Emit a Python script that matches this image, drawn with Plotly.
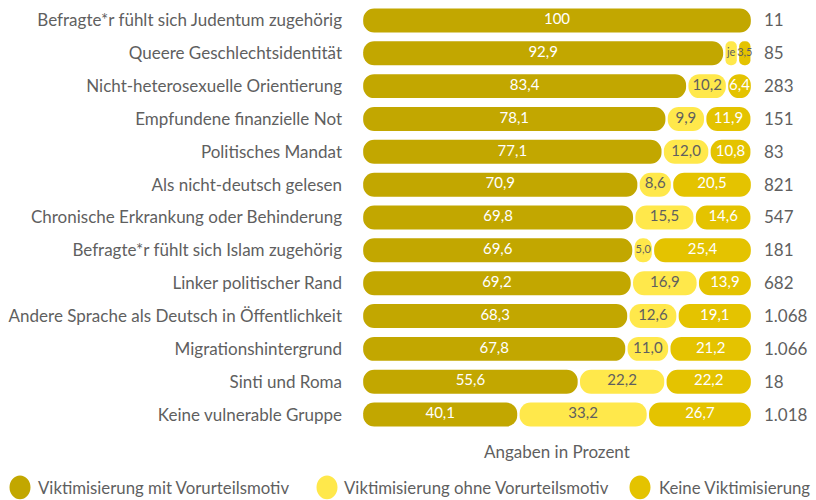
import plotly.graph_objects as go

categories = [
    "Befragte*r fühlt sich Judentum zugehörig",
    "Queere Geschlechtsidentität",
    "Nicht-heterosexuelle Orientierung",
    "Empfundene finanzielle Not",
    "Politisches Mandat",
    "Als nicht-deutsch gelesen",
    "Chronische Erkrankung oder Behinderung",
    "Befragte*r fühlt sich Islam zugehörig",
    "Linker politischer Rand",
    "Andere Sprache als Deutsch in Öffentlichkeit",
    "Migrationshintergrund",
    "Sinti und Roma",
    "Keine vulnerable Gruppe",
]
mit_motiv = [100, 92.9, 83.4, 78.1, 77.1, 70.9, 69.8, 69.6, 69.2, 68.3, 67.8, 55.6, 40.1]
ohne_motiv = [0, 3.5, 10.2, 9.9, 12.0, 8.6, 15.5, 5.0, 16.9, 12.6, 11.0, 22.2, 33.2]
keine = [0, 3.5, 6.4, 11.9, 10.8, 20.5, 14.6, 25.4, 13.9, 19.1, 21.2, 22.2, 26.7]
n_labels = ["11", "85", "283", "151", "83", "821", "547", "181", "682",
            "1.068", "1.066", "18", "1.018"]

FONT = "Lato"
GREY = "#5f5f5f"
W, H = 816, 500
L, R, T, B = 362, 64, 3.5, 68.5
PW, PH = W - L - R, H - T - B

series = [
    ("Viktimisierung mit Vorurteilsmotiv", mit_motiv, "#C2A700", "white"),
    ("Viktimisierung ohne Vorurteilsmotiv", ohne_motiv, "#FFE84B", GREY),
    ("Keine Viktimisierung", keine, "#E4C300", "white"),
]

rows = list(range(len(categories)))
GAP = 0.3      # half the white gap between neighbouring pills, in percent units
BAR_W = 0.73

fig = go.Figure()
starts = [0.0] * len(categories)
for name, vals, color, txt_color in series:
    bases, lens, ys = [], [], []
    tx, ty, tt, ts, tc = [], [], [], [], []
    for i, v in enumerate(vals):
        if v <= 0:
            continue
        bases.append(starts[i] + GAP)
        lens.append(max(v - 2 * GAP, 0.4))
        ys.append(i)
        tx.append(starts[i] + v / 2)
        ty.append(i)
        label = f"{v:.1f}".replace(".", ",") if v != 100 else "100"
        tt.append(label)
        small = v < 6
        ts.append(11 if small else 15)
        tc.append(GREY if small else txt_color)
    fig.add_trace(go.Bar(
        y=ys, x=lens, base=bases, orientation="h", name=name,
        width=BAR_W, marker=dict(color=color, line=dict(width=0), cornerradius=12),
        hoverinfo="skip", showlegend=False,
    ))
    # "je" marks the two equal 3,5 shares of the queer row
    if name.startswith("Viktimisierung ohne"):
        for k, yy in enumerate(ty):
            if yy == 1:
                tt[k] = "je"
    fig.add_trace(go.Scatter(
        x=tx, y=ty, mode="text", text=tt,
        textfont=dict(family=FONT, size=ts, color=tc),
        cliponaxis=False, hoverinfo="skip", showlegend=False,
    ))
    for i, v in enumerate(vals):
        starts[i] += v

# invisible trace that carries the right-hand axis with the case numbers
fig.add_trace(go.Scatter(x=[None], y=[None], yaxis="y2", showlegend=False, hoverinfo="skip"))


def px_x(px):
    return (px - L) / PW


def px_y(py):
    return 1 - (py - T) / PH


annotations = [
    dict(text="Angaben in Prozent", x=px_x(557), y=px_y(452), xref="paper", yref="paper",
         showarrow=False, xanchor="center", yanchor="middle",
         font=dict(family=FONT, size=17, color=GREY)),
]
shapes = []
legend_pos = [(20, 36), (327, 342), (640, 657)]
for (cx, tx0), (name, _, color, _) in zip(legend_pos, series):
    shapes.append(dict(type="circle", xref="paper", yref="paper",
                       x0=px_x(cx - 10.5), x1=px_x(cx + 10.5),
                       y0=px_y(488 - 12), y1=px_y(488 + 12),
                       fillcolor=color, line=dict(width=0)))
    annotations.append(dict(text=name, x=px_x(tx0), y=px_y(488), xref="paper", yref="paper",
                            showarrow=False, xanchor="left", yanchor="middle",
                            font=dict(family=FONT, size=16.8, color=GREY)))

fig.update_layout(
    width=W, height=H,
    margin=dict(l=L, r=R, t=T, b=B, pad=0),
    paper_bgcolor="white", plot_bgcolor="white",
    barmode="overlay",
    showlegend=False,
    font=dict(family=FONT, color=GREY),
    xaxis=dict(range=[0, 100], visible=False, fixedrange=True),
    yaxis=dict(range=[12.5, -0.5], tickmode="array", tickvals=rows, ticktext=categories,
               showgrid=False, zeroline=False, showline=False, ticks="",
               ticklabelstandoff=19, tickfont=dict(family=FONT, size=17, color=GREY),
               automargin=False, fixedrange=True),
    yaxis2=dict(range=[12.5, -0.5], overlaying="y", side="right", tickmode="array",
                tickvals=rows, ticktext=n_labels, showgrid=False, zeroline=False,
                showline=False, ticks="", ticklabelstandoff=11,
                tickfont=dict(family=FONT, size=17, color=GREY),
                automargin=False, fixedrange=True),
    annotations=annotations,
    shapes=shapes,
)

fig.write_html("out.html")
